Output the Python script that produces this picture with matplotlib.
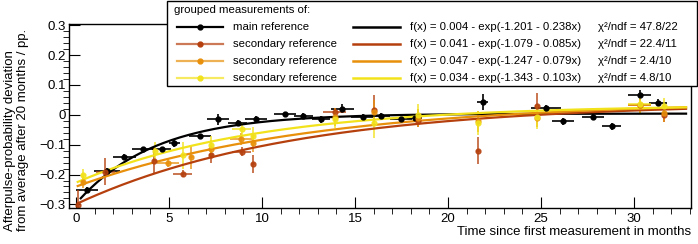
import matplotlib
matplotlib.use("Agg")
import matplotlib.pyplot as plt
from matplotlib.lines import Line2D
from matplotlib.patches import Rectangle
import numpy as np

plt.rcParams['font.family'] = ['Liberation Sans', 'DejaVu Sans']

W, H = 698, 244

# main reference
main_x = [0.57, 1.65, 2.6, 3.62, 4.6, 5.29, 6.67, 7.65, 8.69, 9.68, 11.24, 12.22, 13.17,
          14.32, 15.41, 16.4, 17.47, 18.2, 21.86, 25.27, 26.2, 27.8, 28.8, 30.3, 31.3]
main_y = [-0.253, -0.189, -0.14, -0.116, -0.116, -0.095, -0.071, -0.015, -0.026, -0.015,
          0.003, -0.003, -0.015, 0.02, -0.006, -0.003, -0.015, -0.011, 0.043, 0.022,
          -0.022, -0.006, -0.039, 0.066, 0.04]
main_xerr = [0.6, 0.7, 0.6, 0.6, 0.5, 0.3, 0.6, 0.6, 0.5, 0.6, 0.6, 0.5, 0.5,
             0.6, 0.6, 0.5, 0.6, 0.4, 0.3, 0.8, 0.6, 0.6, 0.5, 0.6, 0.5]
main_yerr = [0.01, 0.012, 0.008, 0.008, 0.008, 0.012, 0.008, 0.018, 0.008, 0.01,
             0.008, 0.008, 0.012, 0.015, 0.008, 0.01, 0.008, 0.008, 0.028, 0.012,
             0.012, 0.01, 0.012, 0.018, 0.012]

# secondary reference 1 (red)
red_x = [0.09, 1.58, 4.21, 5.73, 7.24, 8.9, 9.5, 13.9, 16.0, 18.4, 21.6, 24.8, 30.3, 31.6]
red_y = [-0.303, -0.19, -0.154, -0.197, -0.133, -0.124, -0.165, 0.008, 0.015, -0.02,
         -0.12, 0.028, 0.034, 0.0]
red_xerr = [0.0, 0.5, 0.1, 0.5, 0.1, 0.5, 0.1, 0.6, 0.1, 0.1, 0.1, 0.1, 0.6, 0.1]
red_yerr = [0.05, 0.045, 0.045, 0.012, 0.03, 0.015, 0.03, 0.015, 0.05, 0.02, 0.045,
            0.045, 0.01, 0.025]

# secondary reference 2 (orange)
org_x = [0.39, 4.93, 6.17, 7.24, 8.86, 9.5, 13.9, 16.0, 18.4, 21.6, 24.8, 30.3, 31.6]
org_y = [-0.225, -0.161, -0.14, -0.116, -0.082, -0.093, -0.006, 0.01, -0.01, -0.022,
         -0.01, 0.034, 0.006]
org_xerr = [0.1, 0.6, 0.1, 0.1, 0.6, 0.1, 0.1, 0.1, 0.1, 0.1, 0.1, 0.6, 0.1]
org_yerr = [0.02, 0.015, 0.04, 0.03, 0.02, 0.03, 0.03, 0.04, 0.03, 0.035, 0.03, 0.03, 0.03]

# secondary reference 3 (yellow)
yel_x = [0.39, 4.26, 5.73, 7.24, 8.9, 9.5, 13.9, 16.0, 18.4, 21.6, 24.8, 30.3, 31.6]
yel_y = [-0.2, -0.12, -0.135, -0.101, -0.048, -0.071, -0.015, -0.026, 0.0, -0.026,
         -0.006, 0.037, 0.03]
yel_xerr = [0.1, 0.1, 0.1, 0.1, 0.5, 0.1, 0.1, 0.1, 0.1, 0.1, 0.1, 0.6, 0.1]
yel_yerr = [0.02, 0.03, 0.045, 0.03, 0.02, 0.03, 0.03, 0.05, 0.035, 0.04, 0.04, 0.035, 0.025]

# fit parameters f(x) = a - exp(b + c x)
fit_a = [0.004, 0.041, 0.047, 0.034]
fit_b = [-1.201, -1.079, -1.247, -1.343]
fit_c = [-0.238, -0.085, -0.079, -0.103]
chi2 = ['47.8/22', '22.4/11', '2.4/10', '4.8/10']
labels = ['main reference', 'secondary reference', 'secondary reference', 'secondary reference']
colors = ['#000000', '#b5400e', '#e8900c', '#f2e21c']

series = [(main_x, main_y, main_xerr, main_yerr),
          (red_x, red_y, red_xerr, red_yerr),
          (org_x, org_y, org_xerr, org_yerr),
          (yel_x, yel_y, yel_xerr, yel_yerr)]

fig = plt.figure(figsize=(W / 100, H / 100), dpi=100)
ax = fig.add_axes([69 / W, 1 - 207.7 / H, (690.7 - 69) / W, (207.7 - 24) / H])

for (x, y, xe, ye), col in zip(series, colors):
    ax.errorbar(x, y, xerr=xe, yerr=ye, fmt='o', color=col, ms=3.5, elinewidth=1.2,
                capsize=0, ecolor=col, alpha=0.85 if col != '#000000' else 1)

for i, col in enumerate(colors):
    x0 = 0.25 if i == 0 else 0.09
    xs = np.linspace(x0, 32.8, 300)
    ax.plot(xs, fit_a[i] - np.exp(fit_b[i] + fit_c[i] * xs), color=col, lw=1.6)

ax.set_xlim(-0.38, 33.05)
ax.set_ylim(-0.311, 0.304)
ax.set_xticks([0, 5, 10, 15, 20, 25, 30])
ax.set_xticks(np.arange(0, 33.01, 1), minor=True)
ax.set_yticks([-0.3, -0.2, -0.1, 0, 0.1, 0.2, 0.3])
ax.set_yticklabels(['\u22120.3', '\u22120.2', '\u22120.1', '0', '0.1', '0.2', '0.3'])
ax.set_yticks(np.arange(-0.3, 0.301, 0.02), minor=True)
ax.tick_params(direction='in', top=False, right=False, labelsize=9.5)
ax.tick_params(axis='y', which='major', length=8, pad=2.5)
ax.tick_params(axis='y', which='minor', length=4)
ax.tick_params(axis='x', which='major', length=8, pad=4)
ax.tick_params(axis='x', which='minor', length=4)
for s in ax.spines.values():
    s.set_linewidth(1)

fig.text(10 / W, 1 - 231 / H, 'Afterpulse-probability deviation', rotation=90,
         ha='center', va='bottom', fontsize=9.5)
fig.text(23 / W, 1 - 231 / H, 'from average after 20 months / pp.', rotation=90,
         ha='center', va='bottom', fontsize=9.5)
fig.text(690.7 / W, 1 - 232 / H, 'Time since first measurement in months',
         ha='right', va='center', fontsize=9.5)

# legend box
def px(x):
    return x / W

def py(y):
    return 1 - y / H

fig.add_artist(Rectangle((px(167), py(86)), px(697) - px(167), py(1) - py(86),
                         transform=fig.transFigure, facecolor='white',
                         edgecolor='black', lw=1, zorder=10))
fig.text(px(174), py(10), 'grouped measurements of:', ha='left', va='center',
         fontsize=8.2, zorder=11)
rows = [26.5, 43.7, 61, 78]
for i, col in enumerate(colors):
    yy = py(rows[i])
    a = 1 if i == 0 else 0.7
    fig.add_artist(Line2D([px(177), px(223)], [yy, yy], color=col, lw=1.6, alpha=a,
                          transform=fig.transFigure, zorder=11))
    fig.add_artist(Line2D([px(199.5)], [yy], marker='o', ms=3.5, color=col,
                          transform=fig.transFigure, zorder=12))
    fig.text(px(233), yy, labels[i], ha='left', va='center', fontsize=8.2, zorder=11)
    fig.add_artist(Line2D([px(353), px(400)], [yy, yy], color=col, lw=1.8,
                          transform=fig.transFigure, zorder=11))
    fig.text(px(410), yy, 'f(x) = %.3f - exp(%.3f - %.3fx)' % (fit_a[i], fit_b[i], -fit_c[i]),
             ha='left', va='center', fontsize=8.2, zorder=11)
    fig.text(px(598), yy, '\u03c7\u00b2/ndf = ' + chi2[i], ha='left', va='center',
             fontsize=8.2, zorder=11)

fig.savefig('out.png', dpi=100)
